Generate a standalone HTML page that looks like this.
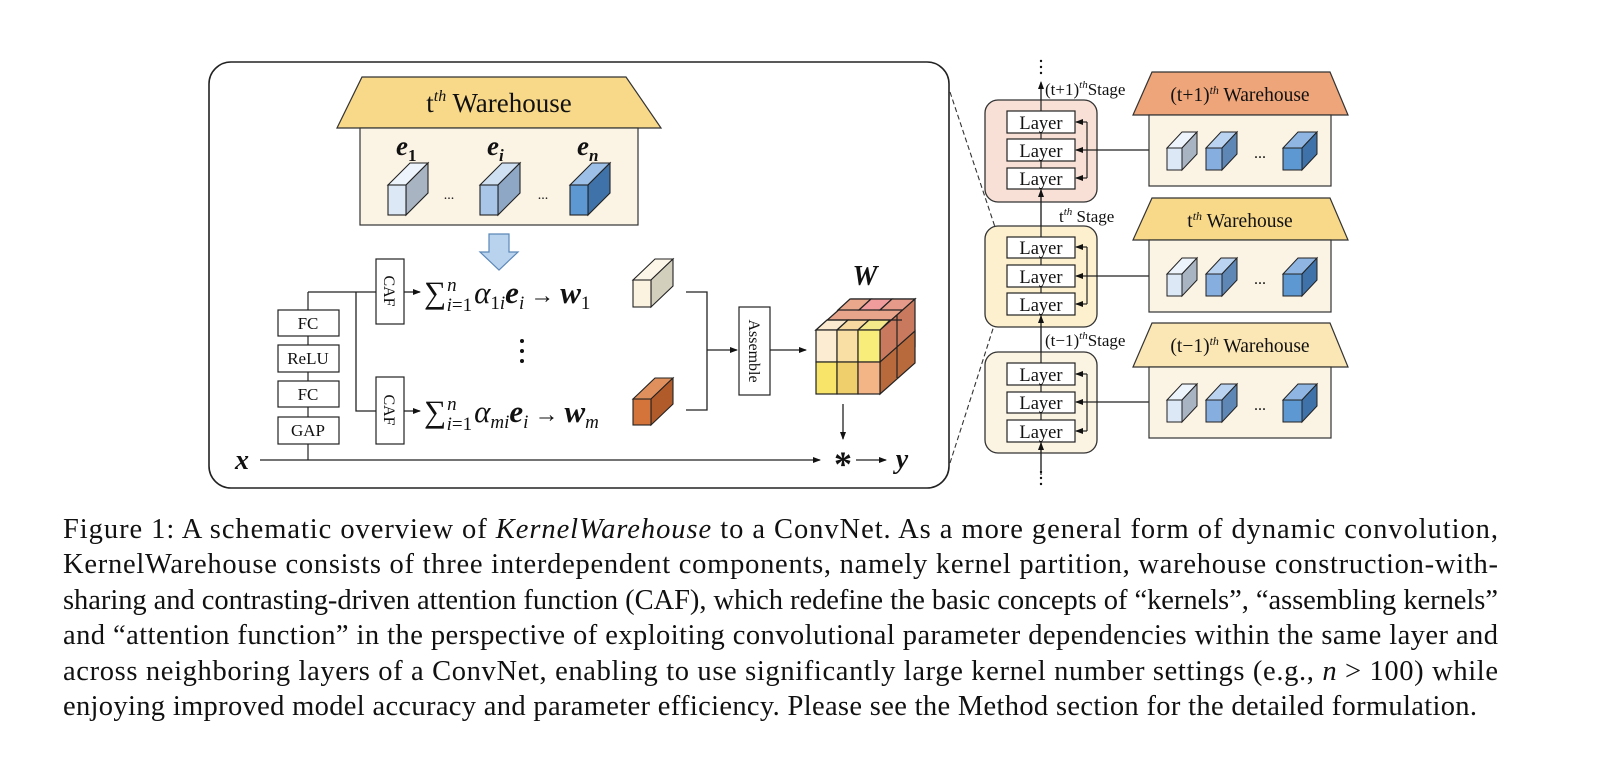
<!DOCTYPE html>
<html><head><meta charset="utf-8">
<style>
html,body{margin:0;padding:0;background:#fff;}
svg{display:block;}
text{font-family:"Liberation Serif",serif;fill:#111;}
</style></head>
<body>
<svg width="1600" height="765" viewBox="0 0 1600 765" xmlns="http://www.w3.org/2000/svg">
<defs>
<marker id="ah" markerWidth="8" markerHeight="8" refX="7" refY="4" orient="auto" markerUnits="userSpaceOnUse">
<path d="M0,1 L8,4 L0,7 Z" fill="#111"/></marker>
</defs>

<rect x="209" y="62" width="740" height="426" rx="22" fill="none" stroke="#222" stroke-width="1.6"/>

<polygon points="362,77 626,77 661,128 337,128" fill="#f8d98a" stroke="#333" stroke-width="1.2"/>
<text x="499" y="112" font-size="27" text-anchor="middle">t<tspan font-size="16" font-style="italic" dy="-11">th</tspan><tspan dy="11"> Warehouse</tspan></text>
<rect x="360" y="128" width="278" height="97" fill="#fbf3e4" stroke="#333" stroke-width="1.2"/>
<g font-size="27" font-weight="bold" font-style="italic">
<text x="396" y="155">e<tspan font-size="17" font-style="normal" dy="6">1</tspan></text>
<text x="487" y="155">e<tspan font-size="17" dy="6">i</tspan></text>
<text x="577" y="155">e<tspan font-size="17" dy="6">n</tspan></text>
</g>
<g stroke="#222" stroke-width="1.1">
<polygon points="388,185 410,163 428,163 406,185" fill="#eef4fb"/><polygon points="406,185 428,163 428,193 406,215" fill="#a9b4c2"/><rect x="388" y="185" width="18" height="30" fill="#dce8f6"/>
<polygon points="480,185 502,163 520,163 498,185" fill="#cfe0f3"/><polygon points="498,185 520,163 520,193 498,215" fill="#8ea7c4"/><rect x="480" y="185" width="18" height="30" fill="#a9c6e8"/>
<polygon points="570,185 592,163 610,163 588,185" fill="#9cc0e8"/><polygon points="588,185 610,163 610,193 588,215" fill="#3f72a8"/><rect x="570" y="185" width="18" height="30" fill="#5d98d2"/>
</g>
<text x="449" y="199" font-size="14" text-anchor="middle">...</text>
<text x="543" y="199" font-size="14" text-anchor="middle">...</text>
<polygon points="489,234 509,234 509,252 518,252 499,270 480,252 489,252" fill="#b9d3ee" stroke="#5b87b8" stroke-width="1.2"/>

<g stroke="#222" stroke-width="1.2" fill="#fff">
<line x1="308" y1="292" x2="308" y2="460"/>
<rect x="278" y="310" width="61" height="26"/>
<rect x="278" y="345" width="61" height="27"/>
<rect x="278" y="381" width="61" height="26"/>
<rect x="278" y="417" width="61" height="27"/>
</g>
<g font-size="17" text-anchor="middle">
<text x="308" y="329">FC</text><text x="308" y="364">ReLU</text><text x="308" y="400">FC</text><text x="308" y="436">GAP</text>
</g>
<g stroke="#222" stroke-width="1.3" fill="none">
<polyline points="308,292 376,292"/>
<polyline points="356,292 356,411 376,411"/>
<line x1="404" y1="292" x2="420" y2="292" marker-end="url(#ah)"/>
<line x1="404" y1="411" x2="420" y2="411" marker-end="url(#ah)"/>
</g>
<rect x="376" y="259" width="28" height="65" fill="#fff" stroke="#222" stroke-width="1.2"/>
<rect x="376" y="377" width="28" height="67" fill="#fff" stroke="#222" stroke-width="1.2"/>
<text font-size="16" transform="translate(384,291) rotate(90)" text-anchor="middle">CAF</text>
<text font-size="16" transform="translate(384,410) rotate(90)" text-anchor="middle">CAF</text>

<g font-size="31">
<text x="424" y="303">∑<tspan font-size="19" font-style="italic" dx="1" dy="-12">n</tspan><tspan font-size="19" dx="-10" dy="20"><tspan font-style="italic">i</tspan>=1</tspan><tspan font-style="italic" dy="-8" dx="2">α</tspan><tspan font-size="19" dy="6">1<tspan font-style="italic">i</tspan></tspan><tspan font-weight="bold" font-style="italic" dy="-6">e</tspan><tspan font-size="19" font-style="italic" dy="6">i</tspan><tspan dy="-6" font-size="24">  →  </tspan><tspan font-weight="bold" font-style="italic">w</tspan><tspan font-size="19" dy="6">1</tspan></text>
<text x="424" y="422">∑<tspan font-size="19" font-style="italic" dx="1" dy="-12">n</tspan><tspan font-size="19" dx="-10" dy="20"><tspan font-style="italic">i</tspan>=1</tspan><tspan font-style="italic" dy="-8" dx="2">α</tspan><tspan font-size="19" font-style="italic" dy="6">mi</tspan><tspan font-weight="bold" font-style="italic" dy="-6">e</tspan><tspan font-size="19" font-style="italic" dy="6">i</tspan><tspan dy="-6" font-size="24"> → </tspan><tspan font-weight="bold" font-style="italic">w</tspan><tspan font-size="19" font-style="italic" dy="6">m</tspan></text>
</g>
<g fill="#111"><circle cx="522" cy="341" r="2"/><circle cx="522" cy="351" r="2"/><circle cx="522" cy="361" r="2"/></g>

<g stroke="#222" stroke-width="1.1">
<polygon points="633,280 655,259 673,259 651,280" fill="#fbf6e8"/><polygon points="651,280 673,259 673,286 651,307" fill="#d3cfbd"/><rect x="633" y="280" width="18" height="27" fill="#fbf3df"/>
<polygon points="633,399 655,378 673,378 651,399" fill="#e0905c"/><polygon points="651,399 673,378 673,404 651,425" fill="#b25b2a"/><rect x="633" y="399" width="18" height="26" fill="#d5743a"/>
</g>
<g stroke="#222" stroke-width="1.3" fill="none">
<polyline points="686,292 707,292 707,410 686,410"/>
<line x1="707" y1="350" x2="737" y2="350" marker-end="url(#ah)"/>
<line x1="770" y1="350" x2="806" y2="350" marker-end="url(#ah)"/>
<line x1="843" y1="404" x2="843" y2="439" marker-end="url(#ah)"/>
<line x1="260" y1="460" x2="820" y2="460" marker-end="url(#ah)"/>
<line x1="856" y1="460" x2="886" y2="460" marker-end="url(#ah)"/>
</g>
<rect x="739" y="307" width="31" height="88" fill="#fff" stroke="#222" stroke-width="1.2"/>
<text font-size="16" transform="translate(749,351) rotate(90)" text-anchor="middle">Assemble</text>

<g stroke="#222" stroke-width="1.2">
<polygon points="816,330 851,299 915,299 880,330" fill="#e9a58c"/>
<polygon points="816,330 827,320 848,320 837,330" fill="#fbead0"/>
<polygon points="837,330 848,320 869,320 858,330" fill="#f8d9a0"/>
<polygon points="858,330 869,320 890,320 880,330" fill="#f3e88a"/>
<polygon points="838,310 850,299 871,299 859,310" fill="#e9a78c"/>
<polygon points="859,310 871,299 892,299 880,310" fill="#f19c9c"/>
<polygon points="880,310 892,299 915,299 903,310" fill="#e59a8a"/>
<polygon points="880,330 915,299 915,347 880,378" fill="#c97a5e"/>
<polygon points="880,362 915,331 915,363 880,394" fill="#b96a3d"/>
<line x1="827" y1="320" x2="902" y2="320"/>
<line x1="897" y1="315" x2="897" y2="378"/>
<rect x="816" y="330" width="21" height="32" fill="#fcecd2"/>
<rect x="837" y="330" width="21" height="32" fill="#f9dfa4"/>
<rect x="858" y="330" width="22" height="32" fill="#f8ec7a"/>
<rect x="816" y="362" width="21" height="32" fill="#f7e468"/>
<rect x="837" y="362" width="21" height="32" fill="#efcf6c"/>
<rect x="858" y="362" width="22" height="32" fill="#f3b586"/>
</g>
<text x="865" y="285" font-size="28" font-weight="bold" font-style="italic" text-anchor="middle">W</text>
<text x="242" y="469" font-size="28" font-style="italic" font-weight="bold" text-anchor="middle">x</text>
<text x="843" y="476" font-size="36" font-weight="bold" text-anchor="middle">*</text>
<text x="902" y="468" font-size="28" font-style="italic" font-weight="bold" text-anchor="middle">y</text>

<g stroke="#333" stroke-width="1.1" stroke-dasharray="5,3">
<line x1="950" y1="92" x2="1007" y2="263"/>
<line x1="950" y1="463" x2="1007" y2="285"/>
</g>

<rect x="985" y="100" width="112" height="102" rx="13" fill="#f8e0d6" stroke="#333" stroke-width="1.3"/>
<rect x="985" y="226" width="112" height="101" rx="13" fill="#fcf0cf" stroke="#333" stroke-width="1.3"/>
<rect x="985" y="352" width="112" height="101" rx="13" fill="#fcf4e2" stroke="#333" stroke-width="1.3"/>
<g stroke="#222" stroke-width="1.2" fill="none">
<line x1="1041" y1="475" x2="1041" y2="83" />
<line x1="1041" y1="100" x2="1041" y2="82" marker-end="url(#ah)"/>
<line x1="1041" y1="226" x2="1041" y2="190" marker-end="url(#ah)"/>
<line x1="1041" y1="352" x2="1041" y2="316" marker-end="url(#ah)"/>
<line x1="1041" y1="470" x2="1041" y2="443" marker-end="url(#ah)"/>
</g>
<g fill="#111"><circle cx="1041" cy="61" r="1.2"/><circle cx="1041" cy="67" r="1.2"/><circle cx="1041" cy="73" r="1.2"/>
<circle cx="1041" cy="472" r="1.2"/><circle cx="1041" cy="478" r="1.2"/><circle cx="1041" cy="484" r="1.2"/></g>

<g stroke="#222" stroke-width="1.2" fill="#fff">
<rect x="1007" y="111" width="68" height="22"/><rect x="1007" y="139" width="68" height="22"/><rect x="1007" y="168" width="68" height="21"/>
<rect x="1007" y="237" width="68" height="21"/><rect x="1007" y="265" width="68" height="22"/><rect x="1007" y="293" width="68" height="22"/>
<rect x="1007" y="363" width="68" height="22"/><rect x="1007" y="392" width="68" height="21"/><rect x="1007" y="420" width="68" height="22"/>
</g>
<g font-size="18.5" text-anchor="middle">
<text x="1041" y="129">Layer</text><text x="1041" y="157">Layer</text><text x="1041" y="185">Layer</text>
<text x="1041" y="254">Layer</text><text x="1041" y="283">Layer</text><text x="1041" y="311">Layer</text>
<text x="1041" y="381">Layer</text><text x="1041" y="409">Layer</text><text x="1041" y="438">Layer</text>
</g>
<g stroke="#222" stroke-width="1.2" fill="none">
<line x1="1087" y1="122" x2="1087" y2="178"/>
<line x1="1087" y1="122" x2="1076" y2="122" marker-end="url(#ah)"/>
<line x1="1150" y1="150" x2="1076" y2="150" marker-end="url(#ah)"/>
<line x1="1087" y1="178" x2="1076" y2="178" marker-end="url(#ah)"/>
<line x1="1087" y1="247" x2="1087" y2="304"/>
<line x1="1087" y1="247" x2="1076" y2="247" marker-end="url(#ah)"/>
<line x1="1150" y1="276" x2="1076" y2="276" marker-end="url(#ah)"/>
<line x1="1087" y1="304" x2="1076" y2="304" marker-end="url(#ah)"/>
<line x1="1087" y1="374" x2="1087" y2="431"/>
<line x1="1087" y1="374" x2="1076" y2="374" marker-end="url(#ah)"/>
<line x1="1150" y1="402" x2="1076" y2="402" marker-end="url(#ah)"/>
<line x1="1087" y1="431" x2="1076" y2="431" marker-end="url(#ah)"/>
</g>
<g font-size="17">
<text x="1045" y="95">(t+1)<tspan font-size="11" font-style="italic" dy="-7">th</tspan><tspan dy="7">Stage</tspan></text>
<text x="1059" y="222">t<tspan font-size="11" font-style="italic" dy="-7">th</tspan><tspan dy="7"> Stage</tspan></text>
<text x="1045" y="346">(t−1)<tspan font-size="11" font-style="italic" dy="-7">th</tspan><tspan dy="7">Stage</tspan></text>
</g>

<g stroke="#333" stroke-width="1.2">
<polygon points="1152,72 1330,72 1348,115 1133,115" fill="#eea57a"/>
<rect x="1149" y="115" width="182" height="71" fill="#fbf3e4"/>
<polygon points="1152,198 1330,198 1348,240 1133,240" fill="#f8d98a"/>
<rect x="1149" y="240" width="182" height="72" fill="#fbf3e4"/>
<polygon points="1152,323 1330,323 1348,367 1133,367" fill="#fbe6b5"/>
<rect x="1149" y="367" width="182" height="71" fill="#fbf3e4"/>
</g>
<g font-size="19.5" text-anchor="middle">
<text x="1240" y="101">(t+1)<tspan font-size="12" font-style="italic" dy="-7">th</tspan><tspan dy="7"> Warehouse</tspan></text>
<text x="1240" y="227">t<tspan font-size="12" font-style="italic" dy="-7">th</tspan><tspan dy="7">  Warehouse</tspan></text>
<text x="1240" y="352">(t−1)<tspan font-size="12" font-style="italic" dy="-7">th</tspan><tspan dy="7"> Warehouse</tspan></text>
</g>
<g stroke="#222" stroke-width="1">
<g id="wc">
<polygon points="1167,148 1182,132 1197,132 1182,148" fill="#eef4fb"/><polygon points="1182,148 1197,132 1197,154 1182,170" fill="#a9b4c2"/><rect x="1167" y="148" width="15" height="22" fill="#dce8f6"/>
<polygon points="1206,148 1221,132 1237,132 1222,148" fill="#b9d3f0"/><polygon points="1222,148 1237,132 1237,154 1222,170" fill="#5f87b6"/><rect x="1206" y="148" width="16" height="22" fill="#86afe0"/>
<polygon points="1283,148 1298,132 1317,132 1302,148" fill="#8fb6e2"/><polygon points="1302,148 1317,132 1317,154 1302,170" fill="#3f72a8"/><rect x="1283" y="148" width="19" height="22" fill="#5d98d2"/>
</g>
<use href="#wc" transform="translate(0,126)"/>
<use href="#wc" transform="translate(0,252)"/>
</g>
<g font-size="16" text-anchor="middle"><text x="1260" y="158">...</text><text x="1260" y="284">...</text><text x="1260" y="410">...</text></g>

<g font-size="28.5">
<text x="63" y="538" textLength="1435" lengthAdjust="spacing">Figure 1: A schematic overview of <tspan font-style="italic">KernelWarehouse</tspan> to a ConvNet.  As a more general form of dynamic convolution,</text>
<text x="63" y="573" textLength="1435" lengthAdjust="spacing">KernelWarehouse consists of three interdependent components, namely kernel partition, warehouse construction-with-</text>
<text x="63" y="609" textLength="1435" lengthAdjust="spacing">sharing and contrasting-driven attention function (CAF), which redefine the basic concepts of “kernels”, “assembling kernels”</text>
<text x="63" y="644" textLength="1435" lengthAdjust="spacing">and “attention function” in the perspective of exploiting convolutional parameter dependencies within the same layer and</text>
<text x="63" y="680" textLength="1435" lengthAdjust="spacing">across neighboring layers of a ConvNet, enabling to use significantly large kernel number settings (e.g., <tspan font-style="italic">n</tspan> &gt; 100) while</text>
<text x="63" y="715" textLength="1414" lengthAdjust="spacing">enjoying improved model accuracy and parameter efficiency. Please see the Method section for the detailed formulation.</text>
</g>
</svg>
</body></html>
